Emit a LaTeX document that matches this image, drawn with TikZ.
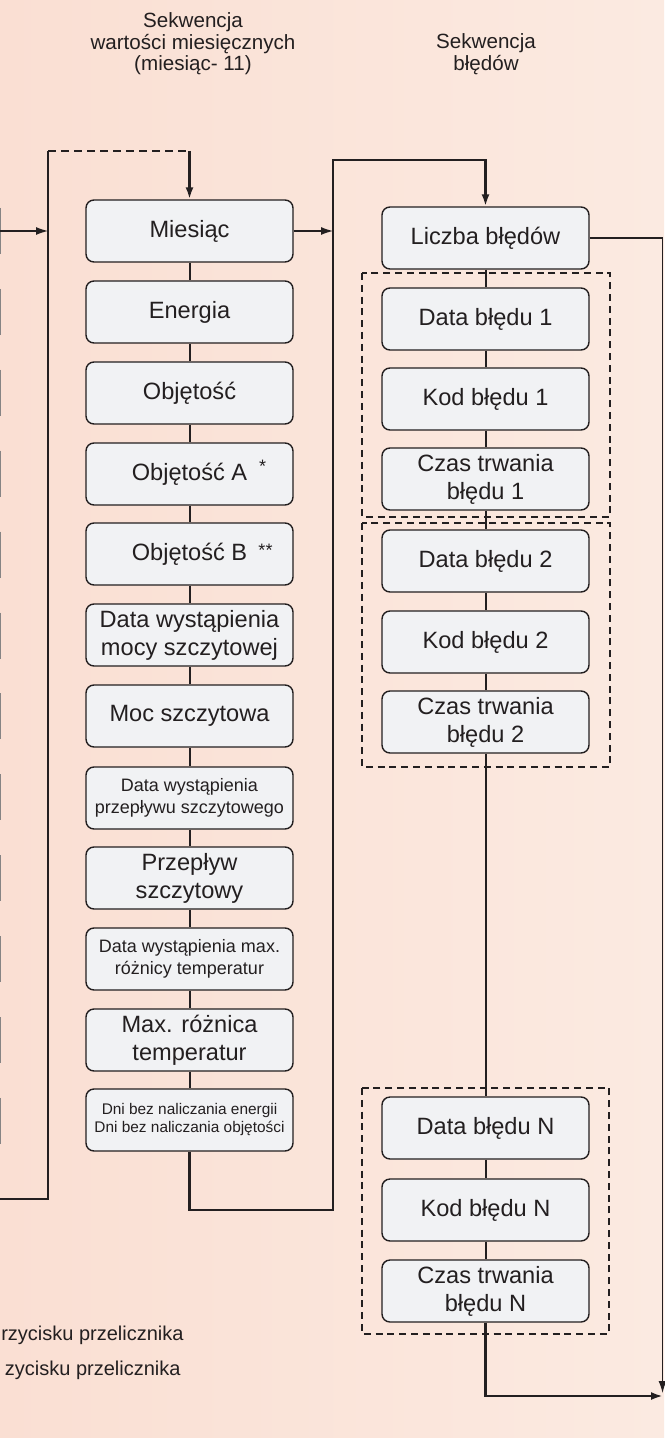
\documentclass[tikz,border=0pt]{standalone}
\usepackage{fontspec}
\setmainfont{Liberation Sans}
\usetikzlibrary{arrows.meta, calc}

\definecolor{bgleft}{RGB}{250,223,211}
\definecolor{bgright}{RGB}{251,234,225}
\definecolor{ink}{RGB}{35,31,32}
\definecolor{cellfill}{RGB}{241,242,244}

\tikzset{
  cell/.style={draw=ink, fill=cellfill, line width=0.7pt, rounded corners=4pt,
    minimum width=103.5pt, minimum height=31pt, inner sep=1pt, align=center,
    text=ink, font=\fontsize{11.8}{14}\selectfont},
  smallcell/.style={font=\fontsize{9}{11}\selectfont},
  tinycell/.style={font=\fontsize{7.7}{9}\selectfont},
  heading/.style={text=ink, align=center, font=\fontsize{10.3}{10.8}\selectfont},
  note/.style={text=ink, inner sep=0pt, font=\fontsize{10}{12}\selectfont},
  star/.style={text=ink, inner sep=0pt, font=\fontsize{9}{9}\selectfont},
  errgroup/.style={draw=ink, line width=0.65pt, dash pattern=on 3.5pt off 2.4pt},
  bus/.style={draw=ink, line width=1.3pt},
  link/.style={draw=ink, line width=1pt},
  feed/.style={draw=ink, line width=0.6pt},
  arrowhead/.style={-{Latex[length=6pt,width=4pt]}},
}

\begin{document}
\begin{tikzpicture}[x=0.5pt, y=-0.5pt]

\useasboundingbox (0,0) rectangle (664,1438);
\fill[left color=bgleft, right color=bgright] (0,0) rectangle (664,1438);

% headings
\node[heading] (headMonth) at (193,44) {Sekwencja\\wartości miesięcznych\\(miesiąc- 11)};
\node[heading] (headErr) at (486,54) {Sekwencja\\błędów};

% edges of the column cut off at the left
\foreach \i in {0,...,11}
  \draw[ink!55, line width=0.5pt] (0.5,{208+80.9*\i}) -- (0.5,{254+80.9*\i});

% monthly values
\node[cell] (miesiac) at (189.5,231) {Miesiąc};
\node[cell] (energia) at (189.5,312) {Energia};
\node[cell] (objetosc) at (189.5,393) {Objętość};
\node[cell] (objA) at (189.5,474) {Objętość A};
\node[cell] (objB) at (189.5,554) {Objętość B};
\node[cell] (dataMoc) at (189.5,635) {Data wystąpienia\\mocy szczytowej};
\node[cell] (moc) at (189.5,716) {Moc szczytowa};
\node[cell, smallcell] (dataPrz) at (189.5,798) {Data wystąpienia\\przepływu szczytowego};
\node[cell] (przeplyw) at (189.5,878) {Przepływ\\szczytowy};
\node[cell, smallcell] (dataDT) at (189.5,959) {Data wystąpienia max.\\różnicy temperatur};
\node[cell] (roznica) at (189.5,1040) {Max. różnica\\temperatur};
\node[cell, tinycell] (dni) at (189.5,1120) {Dni bez naliczania energii\\Dni bez naliczania objętości};

\node[star] (starA) at (262.5,466) {*};
\node[star] (starB) at (265.5,550) {**};

% error sequence
\draw[errgroup] (362,273) rectangle (610,517);
\draw[errgroup] (362,523) rectangle (610,767);
\draw[errgroup] (362,1088) rectangle (609,1334);

\node[cell] (liczba) at (485.5,238) {Liczba błędów};
\node[cell] (data1) at (485.5,319) {Data błędu 1};
\node[cell] (kod1) at (485.5,399) {Kod błędu 1};
\node[cell] (czas1) at (485.5,479) {Czas trwania\\błędu 1};
\node[cell] (data2) at (485.5,561) {Data błędu 2};
\node[cell] (kod2) at (485.5,642) {Kod błędu 2};
\node[cell] (czas2) at (485.5,722) {Czas trwania\\błędu 2};
\node[cell] (dataN) at (485.5,1128) {Data błędu N};
\node[cell] (kodN) at (485.5,1210) {Kod błędu N};
\node[cell] (czasN) at (485.5,1291) {Czas trwania\\błędu N};

\foreach \a/\b in {miesiac/energia, energia/objetosc, objetosc/objA, objA/objB,
    objB/dataMoc, dataMoc/moc, moc/dataPrz, dataPrz/przeplyw, przeplyw/dataDT,
    dataDT/roznica, roznica/dni, liczba/data1, data1/kod1, kod1/czas1, czas1/data2,
    data2/kod2, kod2/czas2, czas2/dataN, dataN/kodN, kodN/czasN}
  \draw[link] (\a) -- (\b);

% left bus
\coordinate (busTop) at (48,151);
\coordinate (busEnd) at (0,1199);
\coordinate (inLeft) at (0,231);
\draw[bus] (busEnd) -| (busTop);
\draw[bus, dash pattern=on 4pt off 2.5pt] (busTop) -- (busTop -| miesiac);
\draw[bus, arrowhead] (busTop -| miesiac) -- (miesiac);
\draw[feed, arrowhead] (inLeft) -- (inLeft -| busTop);

% loop to the error sequence
\coordinate (loopTop) at (333,160);
\coordinate (loopBot) at (333,1210);
\draw[feed, arrowhead] (miesiac) -- (miesiac -| loopTop);
\draw[bus, arrowhead] (dni) |- (loopBot) -- (loopTop) -| (liczba);

% outputs
\coordinate (outBot) at (663,1396);
\coordinate (outRight) at (662.5,1393);
\draw[bus, arrowhead] (czasN) |- (outBot);
\draw[feed, arrowhead] (liczba) -| (outRight);

% footnotes
\node[note, anchor=east] (noteA) at (184,1335) {rzycisku przelicznika};
\node[note, anchor=east] (noteB) at (181,1370) {zycisku przelicznika};

\end{tikzpicture}
\end{document}
